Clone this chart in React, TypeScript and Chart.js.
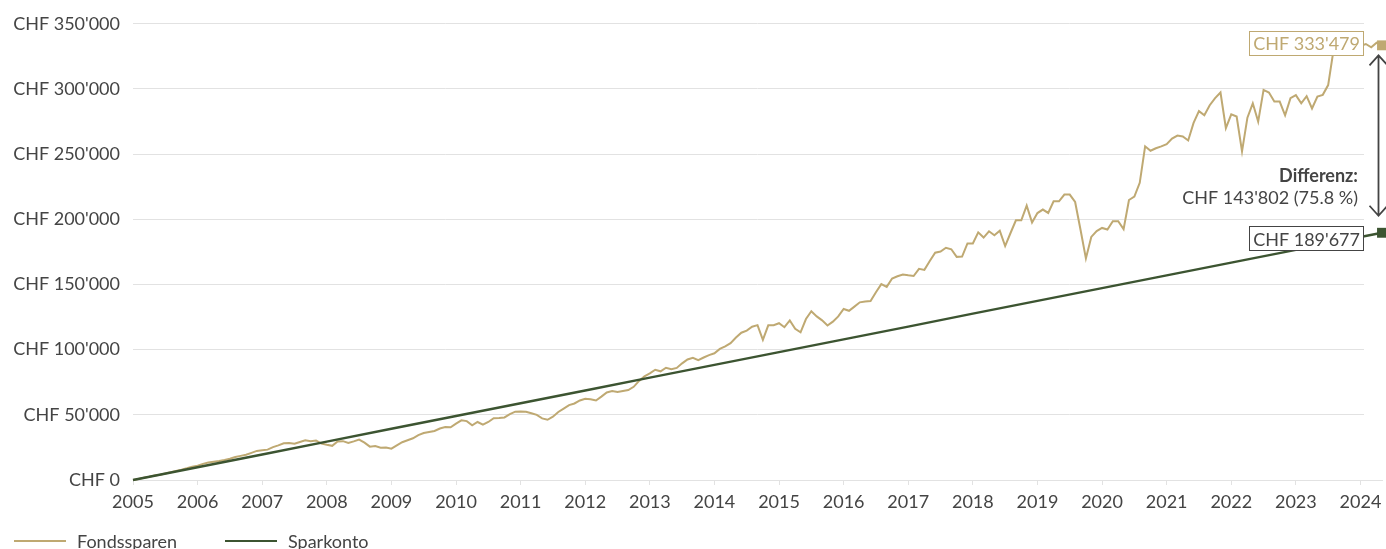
import React, { useEffect, useRef } from 'react';
import { Chart, registerables } from 'chart.js';

Chart.register(...registerables);

// ---------- data ----------
const START_YEAR = 2005;
const MONTHS_PER_YEAR = 12;

// Fondssparen, monthly values (CHF), Jan 2005 .. May 2024
const FONDS_VALUES = [
  0, 800, 1700, 2500, 3400, 4100, 5000, 5900, 6900, 7900, 9000, 10200,
  11000, 12400, 13400, 14000, 14600, 15400, 16300, 17600, 18500, 19400, 20800, 22300,
  22800, 23300, 25200, 26600, 28200, 28300, 27900, 29200, 30500, 29800, 30300, 27900,
  27000, 26200, 29500, 29800, 28400, 29600, 31000, 28700, 25600, 26100, 24800, 25000,
  24000, 26500, 29000, 30500, 32000, 34500, 36000, 36900, 37600, 39500, 40600, 40500,
  43300, 45800, 45200, 42000, 44500, 42500, 44500, 47400, 47600, 48000, 50500, 52400,
  52500, 52300, 51200, 50000, 47300, 46200, 48600, 52200, 54800, 57500, 58700, 61000,
  62300, 62000, 61000, 64000, 67200, 68200, 67500, 68300, 69000, 71500, 76000, 79500,
  81800, 84600, 83400, 86100, 85000, 86000, 89500, 92500, 93800, 92000, 94000, 95800,
  97200, 100600, 102500, 105000, 109300, 113000, 114600, 117600, 118800, 107500, 118700, 118800,
  120300, 117200, 122400, 116000, 113300, 123500, 129500, 125500, 122500, 118500, 121500, 125500,
  131200, 129800, 133000, 136300, 137000, 137300, 144000, 150300, 148200, 154600, 156300, 157600,
  157000, 156500, 162000, 161200, 168000, 174400, 175300, 178200, 177000, 171200, 171400, 181500,
  181500, 190000, 186000, 190800, 187800, 191200, 179500, 189500, 199200, 199300, 210500, 197500,
  204800, 207500, 204900, 213800, 213800, 219000, 219000, 213300, 192000, 170000, 186500, 191000,
  193400, 192200, 198500, 198500, 192500, 214800, 217500, 228000, 256000, 252600, 254500, 256000,
  257700, 262000, 264300, 263600, 260500, 274000, 283000, 279800, 287500, 293000, 297300, 270000,
  280500, 278900, 252100, 278000, 289000, 275000, 299300, 297300, 290300, 290300, 279800, 293000,
  295300, 289000, 294500, 285000, 294200, 295500, 303000, 330000, 332000, 334000, 331000, 335000,
  333000, 334500, 332000, 335500, 333479,
];

// Sparkonto, yearly readings (CHF)
const SPAR_YEARS = [
  2005, 2006, 2007, 2008, 2009, 2010, 2011, 2012, 2013, 2014,
  2015, 2016, 2017, 2018, 2019, 2020, 2021, 2022, 2023, 2024, 2024 + 4 / 12,
];
const SPAR_VALUES = [
  0, 9800, 19600, 29400, 39300, 49100, 58900, 68700, 78500, 88300,
  98100, 107900, 117700, 127600, 137400, 147200, 157000, 166800, 176600, 186400, 189677,
];

const YEAR_TICKS = [
  2005, 2006, 2007, 2008, 2009, 2010, 2011, 2012, 2013, 2014,
  2015, 2016, 2017, 2018, 2019, 2020, 2021, 2022, 2023, 2024,
];
const Y_TICKS = [0, 50000, 100000, 150000, 200000, 250000, 300000, 350000];
const SERIES_NAMES = ['Fondssparen', 'Sparkonto'];
const DIFF_TITLE = 'Differenz:';

// ---------- styles ----------
const GOLD = '#bfa972';
const GREEN = '#3c5431';
const TEXT = '#444444';
const GRID = '#e2e2e2';
const FONT = 'Lato, "DejaVu Sans", sans-serif';
const FONT_SIZE = 18;

function fmtNum(v: number): string {
  return Math.round(v).toString().replace(/\B(?=(\d{3})+(?!\d))/g, "'");
}
function fmtCHF(v: number): string {
  return 'CHF ' + fmtNum(v);
}

function drawBox(
  ctx: CanvasRenderingContext2D,
  text: string,
  right: number,
  cy: number,
  textColor: string,
  borderColor: string
) {
  ctx.font = `${FONT_SIZE}px ${FONT}`;
  const w = Math.round(ctx.measureText(text).width + 8);
  const h = 25;
  const r = Math.round(right);
  const left = r - w;
  const top = Math.round(cy - h / 2);
  ctx.fillStyle = '#ffffff';
  ctx.fillRect(left, top, w, h);
  ctx.strokeStyle = borderColor;
  ctx.lineWidth = 1;
  ctx.strokeRect(left + 0.5, top + 0.5, w - 1, h - 1);
  ctx.fillStyle = textColor;
  ctx.textAlign = 'right';
  ctx.textBaseline = 'middle';
  ctx.fillText(text, r - 4, cy + 1);
}

const endAnnotations = {
  id: 'endAnnotations',
  beforeDatasetsDraw(chart: any) {
    const { ctx, chartArea, scales } = chart;
    const xCut = Math.round(scales.x.getPixelForValue(YEAR_TICKS[YEAR_TICKS.length - 1])) + 4;
    ctx.save();
    ctx.fillStyle = '#ffffff';
    ctx.fillRect(xCut, 0, chart.width - xCut, chartArea.bottom - 1);
    ctx.restore();
  },
  afterDatasetsDraw(chart: any) {
    const { ctx } = chart;
    const metaF = chart.getDatasetMeta(0);
    const metaS = chart.getDatasetMeta(1);
    const pF = metaF.data[metaF.data.length - 1];
    const pS = metaS.data[metaS.data.length - 1];
    const lastF = FONDS_VALUES[FONDS_VALUES.length - 1];
    const lastS = SPAR_VALUES[SPAR_VALUES.length - 1];
    const diff = lastF - lastS;
    const pct = (diff / lastS) * 100;

    ctx.save();
    drawBox(ctx, fmtCHF(lastF), pF.x - 18, pF.y - 2, GOLD, GOLD);
    drawBox(ctx, fmtCHF(lastS), pS.x - 18, pS.y + 6, TEXT, TEXT);

    // double arrow
    const ax = Math.round(pF.x - 4) + 0.5;
    const top = pF.y + 10;
    const bottom = pS.y - 17;
    ctx.strokeStyle = TEXT;
    ctx.lineWidth = 1.8;
    ctx.beginPath();
    ctx.moveTo(ax, top);
    ctx.lineTo(ax, bottom);
    ctx.moveTo(ax - 9, top + 10);
    ctx.lineTo(ax, top);
    ctx.lineTo(ax + 9, top + 10);
    ctx.moveTo(ax - 9, bottom - 10);
    ctx.lineTo(ax, bottom);
    ctx.lineTo(ax + 9, bottom - 10);
    ctx.stroke();

    // difference text
    ctx.fillStyle = TEXT;
    ctx.textAlign = 'right';
    ctx.textBaseline = 'middle';
    ctx.font = `bold ${FONT_SIZE}px ${FONT}`;
    ctx.fillText(DIFF_TITLE, pF.x - 24, pS.y - 57);
    ctx.font = `${FONT_SIZE}px ${FONT}`;
    ctx.fillText(`${fmtCHF(diff)} (${pct.toFixed(1)} %)`, pF.x - 24, pS.y - 35);
    ctx.restore();
  },
};

const bottomLegend = {
  id: 'bottomLegend',
  afterDraw(chart: any) {
    const { ctx } = chart;
    const colors = [GOLD, GREEN];
    const starts = [14, 225];
    const y = 541;
    ctx.save();
    ctx.font = `${FONT_SIZE}px ${FONT}`;
    ctx.textAlign = 'left';
    ctx.textBaseline = 'middle';
    SERIES_NAMES.forEach((name, i) => {
      ctx.strokeStyle = colors[i];
      ctx.lineWidth = 2;
      ctx.beginPath();
      ctx.moveTo(starts[i], y);
      ctx.lineTo(starts[i] + 52, y);
      ctx.stroke();
      ctx.fillStyle = TEXT;
      ctx.fillText(name, starts[i] + 63, y + 1);
    });
    ctx.restore();
  },
};

export default function App() {
  const canvasRef = useRef<HTMLCanvasElement | null>(null);

  useEffect(() => {
    const canvas = canvasRef.current;
    if (!canvas) return;
    const fondsData = FONDS_VALUES.map((v, i) => ({ x: START_YEAR + i / MONTHS_PER_YEAR, y: v }));
    const sparData = SPAR_VALUES.map((v, i) => ({ x: SPAR_YEARS[i], y: v }));
    const lastX = fondsData[fondsData.length - 1].x;

    const chart = new Chart(canvas, {
      type: 'line',
      data: {
        datasets: [
          {
            label: SERIES_NAMES[0],
            data: fondsData,
            borderColor: GOLD,
            backgroundColor: GOLD,
            borderWidth: 2,
            tension: 0,
            pointStyle: 'rect',
            pointRadius: (c: any) => (c.dataIndex === fondsData.length - 1 ? 7 : 0),
            pointHoverRadius: 0,
            pointBackgroundColor: GOLD,
            pointBorderWidth: 0,
            order: 1,
            clip: false,
          } as any,
          {
            label: SERIES_NAMES[1],
            data: sparData,
            borderColor: GREEN,
            backgroundColor: GREEN,
            borderWidth: 2.4,
            tension: 0,
            pointStyle: 'rect',
            pointRadius: (c: any) => (c.dataIndex === sparData.length - 1 ? 7 : 0),
            pointHoverRadius: 0,
            pointBackgroundColor: GREEN,
            pointBorderWidth: 0,
            order: 0,
            clip: false,
          } as any,
        ],
      },
      options: {
        animation: false,
        responsive: false,
        maintainAspectRatio: false,
        events: [],
        layout: { autoPadding: false, padding: { top: 21, right: 4, bottom: 47, left: 0 } },
        plugins: {
          legend: { display: false },
          tooltip: { enabled: false },
        },
        scales: {
          x: {
            type: 'linear',
            min: START_YEAR,
            max: lastX,
            afterBuildTicks: (s: any) => {
              s.ticks = YEAR_TICKS.map((v) => ({ value: v }));
            },
            afterFit: (s: any) => {
              s.height = 35;
              s.paddingLeft = 0;
              s.paddingRight = 0;
            },
            ticks: {
              callback: (v: any) => String(v),
              color: TEXT,
              font: { family: FONT, size: FONT_SIZE },
              padding: 6,
              maxRotation: 0,
              autoSkip: false,
            },
            grid: { drawOnChartArea: false, drawTicks: true, tickLength: 5, color: GRID },
            border: { display: true, color: GRID },
          },
          y: {
            min: 0,
            max: 350000,
            afterBuildTicks: (s: any) => {
              s.ticks = Y_TICKS.map((v) => ({ value: v }));
            },
            afterFit: (s: any) => {
              s.width = 133;
            },
            ticks: {
              callback: (v: any) => fmtCHF(Number(v)),
              color: TEXT,
              font: { family: FONT, size: FONT_SIZE },
              padding: 13,
            },
            grid: { color: GRID, drawTicks: false },
            border: { display: false },
          },
        },
      } as any,
      plugins: [endAnnotations, bottomLegend],
    });

    return () => chart.destroy();
  }, []);

  return (
    <div
      style={{
        position: 'fixed',
        left: 0,
        top: 0,
        width: 1386,
        height: 549,
        overflow: 'hidden',
        background: '#ffffff',
      }}
    >
      <canvas ref={canvasRef} width={1386} height={562} style={{ display: 'block' }} />
    </div>
  );
}
